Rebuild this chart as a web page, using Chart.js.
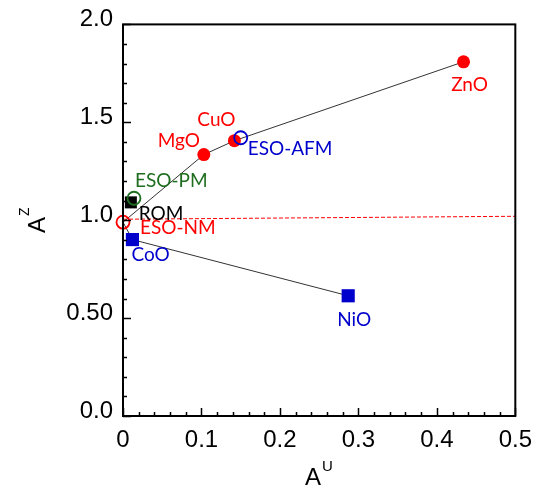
<!DOCTYPE html>
<html>
<head>
<meta charset="utf-8">
<script src="https://cdn.jsdelivr.net/npm/chart.js@4"></script>
<style>
  html, body { margin: 0; padding: 0; background: #fff; }
  #wrap { width: 542px; height: 491px; }
</style>
</head>
<body>
<div id="wrap"><canvas id="chart" width="542" height="491"></canvas></div>
<script>
// compounds and their (A^U, A^Z) values
const names = ['ZnO', 'CuO', 'MgO', 'NiO', 'CoO', 'ROM', 'ESO-NM', 'ESO-PM', 'ESO-AFM']
const aU = [0.434, 0.142, 0.103, 0.287, 0.012, 0.010, 0.000, 0.014, 0.150]
const aZ = [1.809, 1.406, 1.335, 0.614, 0.901, 1.091, 0.990, 1.112, 1.421]

// connecting lines
const upperPath = ['ESO-NM', 'MgO', 'CuO', 'ZnO']
const lowerPath = ['ESO-NM', 'CoO', 'NiO']

// red dashed reference line
const refU = [0, 0.5]
const refZ = [1.005, 1.02]

const xTicks = [0, 0.1, 0.2, 0.3, 0.4, 0.5]
const yTicks = [0, 0.5, 1.0, 1.5, 2.0]
const yTickLabels = ['0.0', '0.50', '1.0', '1.5', '2.0']

const RED = '#ff0000'
const BLUE = '#0000cc'
const GREEN = '#1f6e1f'

const pt = name => ({ x: aU[names.indexOf(name)], y: aZ[names.indexOf(name)] })
const pts = list => list.map(pt)

// marker groups
const filledRed = ['ZnO', 'CuO', 'MgO']
const blueSquares = ['NiO', 'CoO']

// label style: color, align, offset from the point in px
const labelStyle = {
  'ZnO':     { color: RED,   align: 'center', dx: 6,   dy: 23 },
  'CuO':     { color: RED,   align: 'center', dx: -18, dy: -21 },
  'MgO':     { color: RED,   align: 'center', dx: -25, dy: -14 },
  'NiO':     { color: BLUE,  align: 'center', dx: 6,   dy: 24 },
  'CoO':     { color: BLUE,  align: 'left',   dx: -1,  dy: 15 },
  'ROM':     { color: '#000', align: 'left',  dx: 8,   dy: 11 },
  'ESO-NM':  { color: RED,   align: 'left',   dx: 17,  dy: 6 },
  'ESO-PM':  { color: GREEN, align: 'left',   dx: 1,   dy: -17 },
  'ESO-AFM': { color: BLUE,  align: 'left',   dx: 7,   dy: 11 }
}

const frameAndTicks = {
  id: 'frameAndTicks',
  afterDatasetsDraw(chart) {
    const { ctx, chartArea: a, scales: { x, y } } = chart
    ctx.save()
    ctx.strokeStyle = '#000'
    ctx.lineWidth = 1.5
    // minor ticks x every 0.02, y every 0.1
    ctx.beginPath()
    for (let i = 0; i <= 25; i++) {
      const px = Math.round(x.getPixelForValue(i * 0.02)) + 0.5
      const len = i % 5 === 0 ? 8 : 4
      ctx.moveTo(px, a.bottom)
      ctx.lineTo(px, a.bottom - len)
    }
    for (let i = 0; i <= 20; i++) {
      const py = Math.round(y.getPixelForValue(i * 0.1)) + 0.5
      const len = i % 5 === 0 ? 8 : 4
      ctx.moveTo(a.left, py)
      ctx.lineTo(a.left + len, py)
    }
    ctx.stroke()
    ctx.lineWidth = 2
    ctx.strokeRect(a.left, a.top, a.right - a.left, a.bottom - a.top)
    ctx.restore()
  },
  afterDraw(chart) {
    const { ctx, scales: { x, y } } = chart
    ctx.save()
    // point labels
    ctx.font = '19px Lato'
    ctx.textBaseline = 'middle'
    names.forEach((n, i) => {
      const s = labelStyle[n]
      ctx.fillStyle = s.color
      ctx.textAlign = s.align
      ctx.fillText(n, x.getPixelForValue(aU[i]) + s.dx, y.getPixelForValue(aZ[i]) + s.dy)
    })
    // axis titles
    ctx.fillStyle = '#000'
    ctx.textAlign = 'left'
    ctx.textBaseline = 'alphabetic'
    ctx.font = '24px "Liberation Sans"'
    ctx.fillText('A', 305, 485)
    const wA = ctx.measureText('A').width
    ctx.font = '15px "Liberation Sans"'
    ctx.fillText('U', 305 + wA + 1, 471)

    ctx.translate(45, 233)
    ctx.rotate(-Math.PI / 2)
    ctx.font = '24px "Liberation Sans"'
    ctx.fillText('A', 0, 0)
    ctx.font = '14px "Liberation Sans"'
    ctx.fillText('Z', wA + 1, -16)
    ctx.restore()
  }
}

const lineDs = (data, color, dash) => ({
  type: 'scatter',
  data,
  showLine: true,
  borderColor: color,
  borderWidth: 1,
  borderDash: dash || [],
  pointRadius: 0,
  clip: false,
  order: 10
})

new Chart(document.getElementById('chart'), {
  type: 'scatter',
  plugins: [frameAndTicks],
  data: {
    datasets: [
      lineDs(pts(upperPath), '#333'),
      lineDs(pts(lowerPath), '#333'),
      lineDs(refU.map((u, i) => ({ x: u, y: refZ[i] })), RED, [4, 2]),
      {
        data: pts(filledRed),
        pointStyle: 'circle', pointRadius: 6.5,
        backgroundColor: RED, borderWidth: 0, clip: false, order: 4
      },
      {
        data: pts(blueSquares),
        pointStyle: 'rect', pointRadius: 9.3,
        backgroundColor: BLUE, borderWidth: 0, clip: false, order: 4
      },
      {
        data: pts(['ROM']),
        pointStyle: 'rect', pointRadius: 8.5,
        backgroundColor: '#000', borderWidth: 0, clip: false, order: 3
      },
      {
        data: pts(['ESO-NM']),
        pointStyle: 'circle', pointRadius: 6.5,
        backgroundColor: 'rgba(0,0,0,0)', borderColor: RED, borderWidth: 1.8, clip: false, order: 1
      },
      {
        data: pts(['ESO-PM']),
        pointStyle: 'circle', pointRadius: 6.5,
        backgroundColor: 'rgba(0,0,0,0)', borderColor: GREEN, borderWidth: 1.8, clip: false, order: 1
      },
      {
        data: pts(['ESO-AFM']),
        pointStyle: 'circle', pointRadius: 6.5,
        backgroundColor: 'rgba(0,0,0,0)', borderColor: BLUE, borderWidth: 1.8, clip: false, order: 1
      }
    ]
  },
  options: {
    responsive: false,
    animation: false,
    events: [],
    layout: { padding: { top: 22, right: 25, left: 0, bottom: 0 } },
    plugins: { legend: { display: false }, tooltip: { enabled: false } },
    scales: {
      x: {
        type: 'linear', min: 0, max: 0.5,
        afterFit: s => { s.height = 75 },
        afterBuildTicks: s => { s.ticks = xTicks.map(v => ({ value: v })) },
        grid: { display: false, drawTicks: false },
        border: { display: false },
        ticks: {
          padding: 10, color: '#000',
          font: { family: '"Liberation Sans"', size: 24 },
          callback: v => v === 0 ? '0' : v.toFixed(1)
        }
      },
      y: {
        type: 'linear', min: 0, max: 2,
        afterFit: s => { s.width = 123 },
        afterBuildTicks: s => { s.ticks = yTicks.map(v => ({ value: v })) },
        grid: { display: false, drawTicks: false },
        border: { display: false },
        ticks: {
          padding: 10, color: '#000', labelOffset: -5,
          font: { family: '"Liberation Sans"', size: 24 },
          callback: v => yTickLabels[yTicks.indexOf(v)]
        }
      }
    }
  }
})
</script>
</body>
</html>
